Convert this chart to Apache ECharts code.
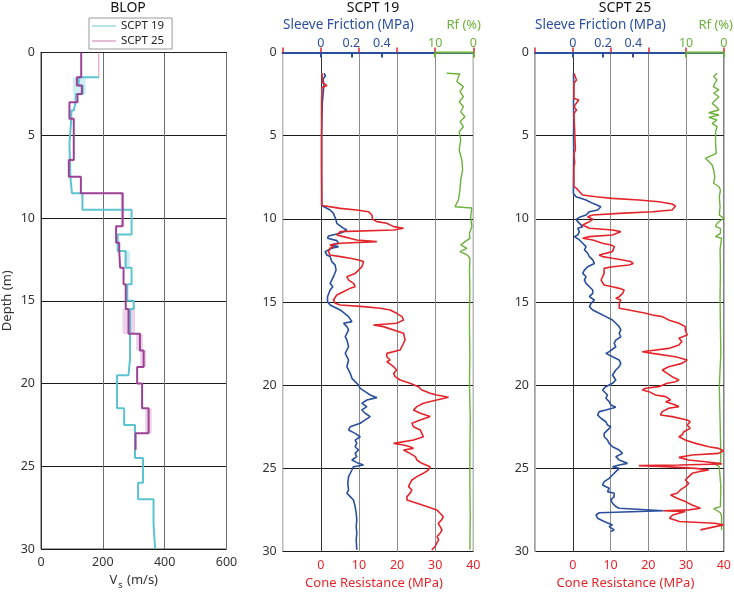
<!DOCTYPE html>
<html><head><meta charset="utf-8">
<script src="https://cdn.jsdelivr.net/npm/echarts@6/dist/echarts.min.js"></script>
<style>html,body{margin:0;padding:0;background:#fff}#c{width:734px;height:595px}</style>
</head><body><div id="c"></div>
<script>
// ---------------- data ----------------
const depthTicks = [0, 5, 10, 15, 20, 25, 30];
const vsTicks = [0, 200, 400, 600];
const coneTicks = [0, 10, 20, 30, 40];
const fsTicks = [0, 0.2, 0.4];
const rfTicks = [10, 0];

// BLOP Vs profiles (layer top depth, layer Vs)
const vs19Top = [0, 1.5, 2.0, 2.5, 3.0, 3.5, 4.0, 5.5, 7.5, 8.5, 9.5, 11, 12, 13, 14, 15, 15.5, 18.5, 19.5, 21.5, 22.5, 24.5, 26, 27, 28.5];
const vs19    = [187, 122, 135, 112, 106, 98, 92, 95, 100, 134, 293, 248, 274, 293, 279, 300, 288, 283, 246, 269, 304, 330, 314, 364, 369];
const vs19Bottom = 30;
const vs25Top = [0, 1.5, 2.0, 2.5, 3.0, 4.0, 6.5, 7.5, 8.5, 10.5, 11.5, 12, 13, 14, 15.5, 17, 18, 19, 20, 21.5, 23];
const vs25    = [130, 116, 132, 118, 92, 106, 90, 129, 264, 243, 253, 256, 267, 274, 283, 320, 332, 311, 327, 348, 306];
const vs25Bottom = 24;
// uncertainty bands
const band19Lo = [103, 269], band19Hi = [145, 288], band19Top = [1.5, 12], band19Bot = [2.5, 13];
const band25Lo = [258, 264, 308, 321, 337], band25Hi = [269, 304, 330, 340, 358];
const band25Top = [8.5, 15.5, 17, 18, 21.5], band25Bot = [10.5, 17, 18, 19, 23];

// SCPT 19 cone resistance (MPa)
const q19Depth = [1.25,1.8,2.0,2.1,3,5,7,9.2,9.31,9.37,9.47,9.57,9.77,10.03,10.17,10.27,10.47,10.57,10.67,10.77,10.97,11.07,11.27,11.37,11.47,11.57,11.67,11.77,11.97,12.17,12.27,12.37,12.47,12.57,12.67,12.87,13.08,13.28,13.48,13.68,13.88,14.08,14.18,14.38,14.58,14.88,15.08,15.18,15.28,15.38,15.48,15.68,15.88,16.08,16.18,16.28,16.38,16.48,16.88,17.28,17.48,17.89,18.09,18.29,18.49,18.59,18.89,19.09,19.29,19.49,19.69,19.89,20.09,20.29,20.49,20.59,20.73,20.89,21.09,21.29,21.49,21.69,21.89,22.09,22.29,22.39,22.5,22.7,22.9,23.1,23.3,23.5,23.6,23.7,23.8,23.9,24.0,24.1,24.3,24.5,24.7,24.9,25.0,25.1,25.3,25.5,25.7,25.9,26.1,26.3,26.5,26.7,26.9,27.1,27.3,27.5,27.7,27.9,28.1,28.3,28.5,28.7,28.9,29.1,29.3,29.5,29.7,29.9];
const q19      = [0.3,0.4,1.6,0.3,0.2,0.2,0.2,0.3,0.3,5.1,9.4,12.5,13.4,13.6,14.7,17.3,19.1,21.7,19.1,5.1,4.2,5.9,9.4,14.7,5.1,2.4,3.3,2.4,2.0,2.4,5.1,7.7,9.9,11.2,11.6,10.8,9.9,9.0,6.8,7.3,8.6,9.0,7.7,5.9,4.2,3.3,3.8,5.1,11.2,15.6,18.2,19.9,21.3,21.7,20.8,19.9,13.8,16.4,21.7,22.1,21.7,20.8,17.3,17.3,18.2,17.3,19.1,19.9,19.1,19.5,20.8,23.4,25.6,26.5,28.7,30.4,33.5,30.4,26.9,25.2,24.3,26.1,28.7,26.1,23.9,23.4,24.3,26.1,26.5,26.9,24.3,19.1,21.7,23.4,24.3,21.7,21.3,23.4,24.8,25.2,26.5,28.7,29.1,28.2,26.9,25.2,23.9,23.4,23.0,23.9,23.4,22.6,22.6,25.2,27.8,30.4,31.3,32.1,31.7,30.8,31.3,31.8,31.3,30.5,30.9,30.4,30.0,29.1];
// SCPT 19 sleeve friction (MPa)
const fs19Depth = [1.25,1.4,1.6,2.0,3,5,7,9.2,9.31,9.47,9.67,10.07,10.27,10.57,10.67,10.87,11.03,11.17,11.31,11.47,11.57,11.67,11.77,11.97,12.17,12.27,12.57,12.78,13.08,13.48,13.88,14.08,14.28,14.68,14.98,15.18,15.48,15.88,16.18,16.28,16.48,16.68,16.88,17.08,17.28,17.69,18.09,18.49,18.89,19.29,19.59,19.79,19.99,20.19,20.39,20.59,20.75,20.89,21.09,21.29,21.49,21.69,21.89,22.09,22.29,22.5,22.7,22.9,23.1,23.3,23.5,23.7,23.9,24.1,24.3,24.5,24.7,24.8,24.9,25.1,25.5,25.9,26.3,26.5,26.7,26.9,27.3,27.7,28.1,28.5,28.9,29.3,29.9];
const fs19      = [0.02,0.03,0.015,0.02,0.01,0.005,0.005,0.005,0.013,0.061,0.083,0.10,0.105,0.149,0.171,0.127,0.05,0.044,0.105,0.116,0.061,0.116,0.072,0.028,0.039,0.061,0.072,0.094,0.10,0.083,0.061,0.079,0.061,0.044,0.044,0.061,0.127,0.182,0.204,0.149,0.171,0.182,0.171,0.16,0.171,0.182,0.16,0.182,0.171,0.193,0.204,0.225,0.247,0.258,0.291,0.324,0.368,0.302,0.269,0.302,0.269,0.291,0.324,0.291,0.258,0.193,0.182,0.225,0.258,0.225,0.236,0.225,0.247,0.225,0.236,0.204,0.247,0.28,0.214,0.204,0.182,0.177,0.182,0.171,0.193,0.214,0.225,0.232,0.236,0.232,0.236,0.232,0.236];
// SCPT 19 friction ratio (%)
const rf19Depth = [1.25,1.29,1.45,1.75,2.05,2.35,2.66,2.96,3.26,3.56,3.86,4.16,4.46,4.76,5.26,5.86,6.46,7.06,7.67,8.27,8.87,9.27,9.35,9.87,10.47,10.87,11.17,11.37,11.57,11.77,11.97,12.17,12.37,13.08,14.28,15.48,16.68,18,20,22,24,26,28,29.9];
const rf19      = [7.0,3.5,3.9,4.3,2.6,3.5,2.6,3.7,2.6,3.3,2.2,3.5,2.6,3.7,3.3,3.7,3.0,2.8,3.3,3.5,3.9,4.8,0.4,0.7,0.4,1.0,0.9,2.2,3.3,1.7,3.5,1.6,0.9,1.0,0.9,1.0,1.0,0.9,1.0,0.8,0.9,0.9,0.8,0.9];

// SCPT 25 cone resistance (MPa)
const q25Depth = [1.25,1.65,1.85,2.76,2.86,3.06,3.26,3.46,3.66,5.86,6.06,6.66,6.86,8.07,8.17,8.37,8.57,8.67,8.77,8.87,8.97,9.11,9.23,9.47,9.57,9.67,9.77,9.87,10.03,10.17,10.37,10.57,10.67,10.77,10.87,10.97,11.07,11.17,11.27,11.47,11.57,11.67,11.77,11.97,12.17,12.27,12.37,12.47,12.57,12.68,12.78,12.88,12.98,13.08,13.28,13.48,13.68,13.78,13.98,14.08,14.18,14.28,14.48,14.68,14.78,14.88,14.98,15.08,15.18,15.38,15.48,15.68,15.78,15.88,16.08,16.28,16.48,16.68,16.98,17.18,17.38,17.59,17.79,17.99,18.09,18.29,18.49,18.69,18.89,19.09,19.29,19.49,19.69,19.79,19.89,20.09,20.19,20.29,20.39,20.59,20.69,20.89,20.99,21.19,21.29,21.39,21.59,21.79,21.89,22.09,22.2,22.4,22.6,22.8,23.0,23.1,23.3,23.5,23.7,23.8,23.94,24.1,24.2,24.34,24.5,24.6,24.7,24.74,24.8,24.84,24.9,25.0,25.1,25.2,25.3,25.5,25.7,25.9,26.1,26.3,26.5,26.6,26.8,27.0,27.2,27.4,27.5,27.55,27.6,27.8,28.0,28.2,28.3,28.4,28.55,28.7];
const q25      = [0.3,1.0,0.3,0.3,1.6,0.9,0.3,1.0,0.3,0.7,0.3,0.5,0.3,0.3,1.0,1.8,2.6,6.1,10.5,17.5,22.8,26.3,27.2,26.3,21.1,12.3,5.3,3.9,5.3,4.4,2.6,4.4,10.5,12.7,13.2,10.5,4.4,2.6,5.3,7.9,10.1,11.0,11.4,10.5,7.0,7.9,10.5,13.2,15.4,16.0,14.9,10.5,8.3,7.9,8.3,7.9,7.5,7.0,8.3,10.5,12.3,13.6,13.2,12.3,11.4,12.7,13.2,12.3,11.8,12.3,14.9,19.3,21.1,23.7,25.4,28.1,29.8,29.8,30.3,28.1,28.9,28.1,25.4,18.4,21.1,27.2,30.3,28.9,25.4,23.7,25.0,26.3,28.1,27.2,25.0,22.8,19.3,18.4,20.2,21.9,24.6,25.9,24.6,27.2,28.1,25.4,23.7,23.2,26.3,30.3,31.1,30.3,31.1,29.4,28.9,28.1,29.8,32.5,36.0,38.6,39.9,38.6,31.6,28.1,30.7,35.1,38.6,39.5,28.1,17.5,24.6,32.5,36.0,33.3,31.6,30.7,29.8,30.7,29.8,28.5,27.6,25.9,27.6,29.8,31.6,33.8,30.7,24.0,29.8,26.5,25.6,28.2,37.6,39.9,36.8,33.8];
// SCPT 25 sleeve friction (MPa)
const fs25Depth = [1.25,2,3,4,5,6,7,8.47,8.67,8.87,9.07,9.27,9.47,9.57,9.77,9.91,10.03,10.17,10.27,10.47,10.57,10.77,10.97,11.07,11.17,11.27,11.47,11.67,11.87,12.07,12.27,12.47,12.68,12.88,13.08,13.28,13.48,13.68,13.88,14.08,14.28,14.48,14.68,14.88,15.08,15.28,15.48,15.68,15.88,16.08,16.28,16.48,16.68,16.88,17.09,17.29,17.49,17.69,17.99,18.09,18.29,18.49,18.69,18.89,19.09,19.39,19.69,19.89,20.09,20.29,20.39,20.59,20.79,20.99,21.19,21.33,21.49,21.59,21.79,21.99,22.2,22.4,22.5,22.7,22.9,23.1,23.3,23.5,23.7,23.9,24.1,24.3,24.5,24.7,24.8,24.9,25.0,25.2,25.4,25.6,25.8,26.0,26.2,26.4,26.5,26.6,26.7,26.9,27.1,27.3,27.4,27.55,27.67,27.8,28.0,28.2,28.4,28.5,28.7,28.8];
const fs25      = [0.005,0.006,0.005,0.006,0.005,0.006,0.005,0.004,0.022,0.088,0.132,0.186,0.164,0.11,0.088,0.044,0.022,0.033,0.044,0.066,0.033,0.044,0.033,0.011,0.022,0.044,0.066,0.088,0.077,0.099,0.11,0.132,0.143,0.099,0.077,0.066,0.088,0.077,0.088,0.11,0.132,0.132,0.11,0.143,0.121,0.11,0.132,0.175,0.219,0.263,0.285,0.307,0.318,0.307,0.318,0.285,0.274,0.285,0.241,0.219,0.263,0.307,0.318,0.307,0.285,0.263,0.285,0.263,0.219,0.197,0.208,0.23,0.219,0.241,0.252,0.285,0.219,0.175,0.164,0.186,0.219,0.23,0.252,0.23,0.208,0.208,0.23,0.241,0.263,0.307,0.329,0.285,0.307,0.362,0.307,0.263,0.307,0.285,0.263,0.241,0.208,0.197,0.241,0.23,0.274,0.263,0.274,0.252,0.263,0.285,0.307,0.60,0.175,0.154,0.164,0.208,0.263,0.241,0.274,0.252];
// SCPT 25 friction ratio (%)
const rf25Depth = [1.25,1.45,1.65,1.85,2.05,2.25,2.45,2.66,2.86,3.06,3.26,3.46,3.62,3.76,3.9,4.06,4.26,4.46,4.76,5.46,6.06,6.36,6.56,6.76,7.06,7.46,7.86,8.07,8.27,8.67,9.27,9.77,9.87,9.97,10.07,10.27,10.47,10.57,10.87,11.07,11.17,11.87,13.08,14.68,16.68,18.09,20.09,22.09,24.1,24.66,24.76,24.9,25.0,26.1,27.3,27.43,27.55,27.67,27.9,28.7];
const rf25      = [1.8,2.7,1.8,2.4,2.8,1.3,2.7,1.3,2.2,3.1,2.0,1.3,4.0,1.3,4.0,1.8,3.1,1.8,2.2,2.2,2.0,4.9,4.0,3.1,2.7,2.4,2.7,1.3,0.9,1.2,1.0,1.2,1.5,0.0,0.7,1.8,2.2,0.9,0.9,2.2,0.6,1.0,0.9,1.0,0.9,0.8,1.2,1.0,0.8,0.9,2.2,1.2,0.7,0.8,0.9,2.7,3.1,0.9,0.6,0.6];

// ---------------- build ----------------
const FONT = '"Noto Sans", "Open Sans", sans-serif';
const C_BLUE = '#2a4f9c', C_RED = '#e3262b', C_GREEN = '#6cb23c', C_CYAN = '#5cc3d0', C_PURPLE = '#9c4296';
const GRID_TOP = 52.5, GRID_H = 499;

function pairs(vals, depths) { return vals.map((v, i) => [v, depths[i]]); }
function stepProfile(vs, tops, bottom, from) {
  const pts = [[vs[from - 1], tops[from]]];
  for (let i = from; i < vs.length; i++) {
    const b = i + 1 < tops.length ? tops[i + 1] : bottom;
    pts.push([vs[i], tops[i]], [vs[i], b]);
  }
  return pts;
}
function bands(lo, hi, top, bot) { return lo.map((l, i) => [l, hi[i], top[i], bot[i]]); }
function bandSeries(data, color) {
  return {
    type: 'custom', xAxisIndex: 0, yAxisIndex: 0, data: data, silent: true, z: 1,
    renderItem: (params, api) => {
      const p0 = api.coord([api.value(0), api.value(2)]);
      const p1 = api.coord([api.value(1), api.value(3)]);
      return { type: 'rect', shape: { x: p0[0], y: p0[1], width: p1[0] - p0[0], height: p1[1] - p0[1] }, style: { fill: color } };
    }
  };
}
function depthAxis(gi) {
  return {
    gridIndex: gi, type: 'value', inverse: true, min: 0, max: 30, interval: 5,
    axisLine: { show: true, lineStyle: { color: '#333', width: 1 } },
    axisTick: { show: false },
    axisLabel: { color: '#333', fontSize: 12.5, fontFamily: FONT, margin: 6 },
    splitLine: { show: true, lineStyle: { color: '#1a1a1a', width: 1 } },
    name: gi === 0 ? 'Depth (m)' : '', nameLocation: 'middle', nameGap: 27, nameRotate: 90,
    nameTextStyle: { color: '#333', fontSize: 13, fontFamily: FONT }
  };
}
function coneAxis(gi) {
  return {
    gridIndex: gi, type: 'value', position: 'bottom', min: -10, max: 40, interval: 10,
    axisLine: { show: true, lineStyle: { color: C_RED, width: 2 } },
    axisTick: { show: true, inside: true, length: 5, lineStyle: { color: C_RED, width: 1.5 } },
    axisLabel: { color: C_RED, fontSize: 12.5, fontFamily: FONT, margin: 7, formatter: v => v < 0 ? '' : String(v) },
    splitLine: { show: true, lineStyle: { color: ['#bbb', '#c4c4c4', '#8c8c8c', '#8c8c8c', '#8c8c8c', '#bbb'], width: 1 } },
    name: 'Cone Resistance (MPa)', nameLocation: 'middle', nameGap: 24,
    nameTextStyle: { color: C_RED, fontSize: 13, fontFamily: FONT, padding: [0, 8, 0, 0] }
  };
}
function fsAxis(gi) {
  return {
    gridIndex: gi, type: 'value', position: 'top', min: -0.25, max: 1.0,
    axisLine: { show: true, lineStyle: { color: C_BLUE, width: 2 } },
    axisTick: { show: true, inside: true, length: 5, customValues: fsTicks, lineStyle: { color: C_BLUE, width: 2 } },
    axisLabel: { color: C_BLUE, fontSize: 12.5, fontFamily: FONT, margin: 3, customValues: fsTicks, formatter: v => v === 0 ? '0' : v.toFixed(1) },
    splitLine: { show: false }
  };
}
function rfAxis(gi) {
  return {
    gridIndex: gi, type: 'value', position: 'top', min: 0, max: 50, inverse: true,
    axisLine: { show: false },
    axisTick: { show: true, inside: true, length: 5, customValues: rfTicks, lineStyle: { color: C_GREEN, width: 2 } },
    axisLabel: { color: C_GREEN, fontSize: 12.5, fontFamily: FONT, margin: 3, customValues: rfTicks },
    splitLine: { show: false }
  };
}
function line(name, data, color, width, xi, yi, z) {
  return { name: name, type: 'line', data: data, xAxisIndex: xi, yAxisIndex: yi, symbol: 'none', showSymbol: false,
    lineStyle: { color: color, width: width }, itemStyle: { color: color }, z: z || 3, silent: true };
}

const grids = [
  { left: 36.5, top: GRID_TOP, width: 190, height: GRID_H },
  { left: 282.7, top: GRID_TOP, width: 190.6, height: GRID_H },
  { left: 535, top: GRID_TOP, width: 190.6, height: GRID_H }
].map(g => Object.assign(g, { show: true, borderColor: '#444', borderWidth: 1, backgroundColor: 'transparent' }));

const xAxes = [
  { gridIndex: 0, type: 'value', min: 0, max: 600, interval: 200,
    axisLine: { show: true, lineStyle: { color: '#222', width: 1 } }, axisTick: { show: false },
    axisLabel: { color: '#333', fontSize: 12.5, fontFamily: FONT, margin: 7 },
    splitLine: { show: true, lineStyle: { color: '#6e6e6e', width: 1 } },
    name: '{v|V}{s|s}{v| (m/s)}', nameLocation: 'middle', nameGap: 22,
    nameTextStyle: { rich: { v: { fontSize: 13, color: '#333', fontFamily: FONT }, s: { fontSize: 9, color: '#333', fontFamily: FONT, padding: [10, 1, 0, 1] } } } },
  coneAxis(1), fsAxis(1), rfAxis(1),
  coneAxis(2), fsAxis(2), rfAxis(2)
];
const yAxes = [depthAxis(0), depthAxis(1), depthAxis(2)];

const series = [
  bandSeries(bands(band19Lo, band19Hi, band19Top, band19Bot), 'rgba(92,195,208,0.28)'),
  bandSeries(bands(band25Lo, band25Hi, band25Top, band25Bot), 'rgba(206,120,190,0.35)'),
  line('SCPT 25 top', [[vs19[0], vs19Top[0]], [vs19[0], vs19Top[1]]], '#e08fb6', 1, 0, 0, 3),
  line('SCPT 19', stepProfile(vs19, vs19Top, vs19Bottom, 1), C_CYAN, 2, 0, 0, 4),
  line('SCPT 25', stepProfile(vs25, vs25Top, vs25Bottom, 1), C_PURPLE, 2, 0, 0, 5),
  line('fs19', pairs(fs19, fs19Depth), C_BLUE, 1.6, 2, 1, 4),
  line('q19', pairs(q19, q19Depth), C_RED, 1.6, 1, 1, 5),
  line('rf19', pairs(rf19, rf19Depth), C_GREEN, 1.4, 3, 1, 4),
  line('rfaxis19', [[rfTicks[0], 0], [rfTicks[1], 0]], C_GREEN, 2.2, 3, 1, 6),
  line('fs25', pairs(fs25, fs25Depth), C_BLUE, 1.6, 5, 2, 4),
  line('q25', pairs(q25, q25Depth), C_RED, 1.6, 4, 2, 5),
  line('rf25', pairs(rf25, rf25Depth), C_GREEN, 1.4, 6, 2, 4),
  line('rfaxis25', [[rfTicks[0], 0], [rfTicks[1], 0]], C_GREEN, 2.2, 6, 2, 6)
];
// purple profile: first layer drawn from surface
series[4].data = [[vs25[0], vs25Top[0]]].concat(series[4].data);
series[8].clip = false; series[12].clip = false;

function txt(text, x, y, color, size, align) {
  return { type: 'text', x: x, y: y, silent: true, z: 100,
    style: { text: text, fill: color, font: size + 'px ' + FONT, align: align || 'center', verticalAlign: 'middle' } };
}

const option = {
  animation: false,
  backgroundColor: '#fff',
  grid: grids,
  xAxis: xAxes,
  yAxis: yAxes,
  series: series,
  legend: {
    data: [{ name: 'SCPT 19', itemStyle: { color: '#86d2dc' } }, { name: 'SCPT 25', itemStyle: { color: '#d68fbd' } }],
    left: 89, top: 18, orient: 'vertical', icon: 'rect', itemWidth: 24, itemHeight: 1.2, itemGap: 3,
    padding: [2, 8, 2, 3], borderColor: '#999', borderWidth: 1, backgroundColor: '#fff',
    textStyle: { color: '#222', fontSize: 11.5, fontFamily: FONT, lineHeight: 12 }
  },
  graphic: [
    txt('BLOP', 128, 8, '#111', 14),
    txt('SCPT 19', 373, 8, '#111', 14),
    txt('SCPT 25', 625, 8, '#111', 14),
    txt('Sleeve Friction (MPa)', 283, 25, C_BLUE, 13.5, 'left'),
    txt('Sleeve Friction (MPa)', 535, 25, C_BLUE, 13.5, 'left'),
    txt('Rf (%)', 481, 25, C_GREEN, 13, 'right'),
    txt('Rf (%)', 733, 25, C_GREEN, 13, 'right')
  ]
};
const chart = echarts.init(document.getElementById('c'), null, { renderer: 'canvas' });
chart.setOption(option);
</script></body></html>
